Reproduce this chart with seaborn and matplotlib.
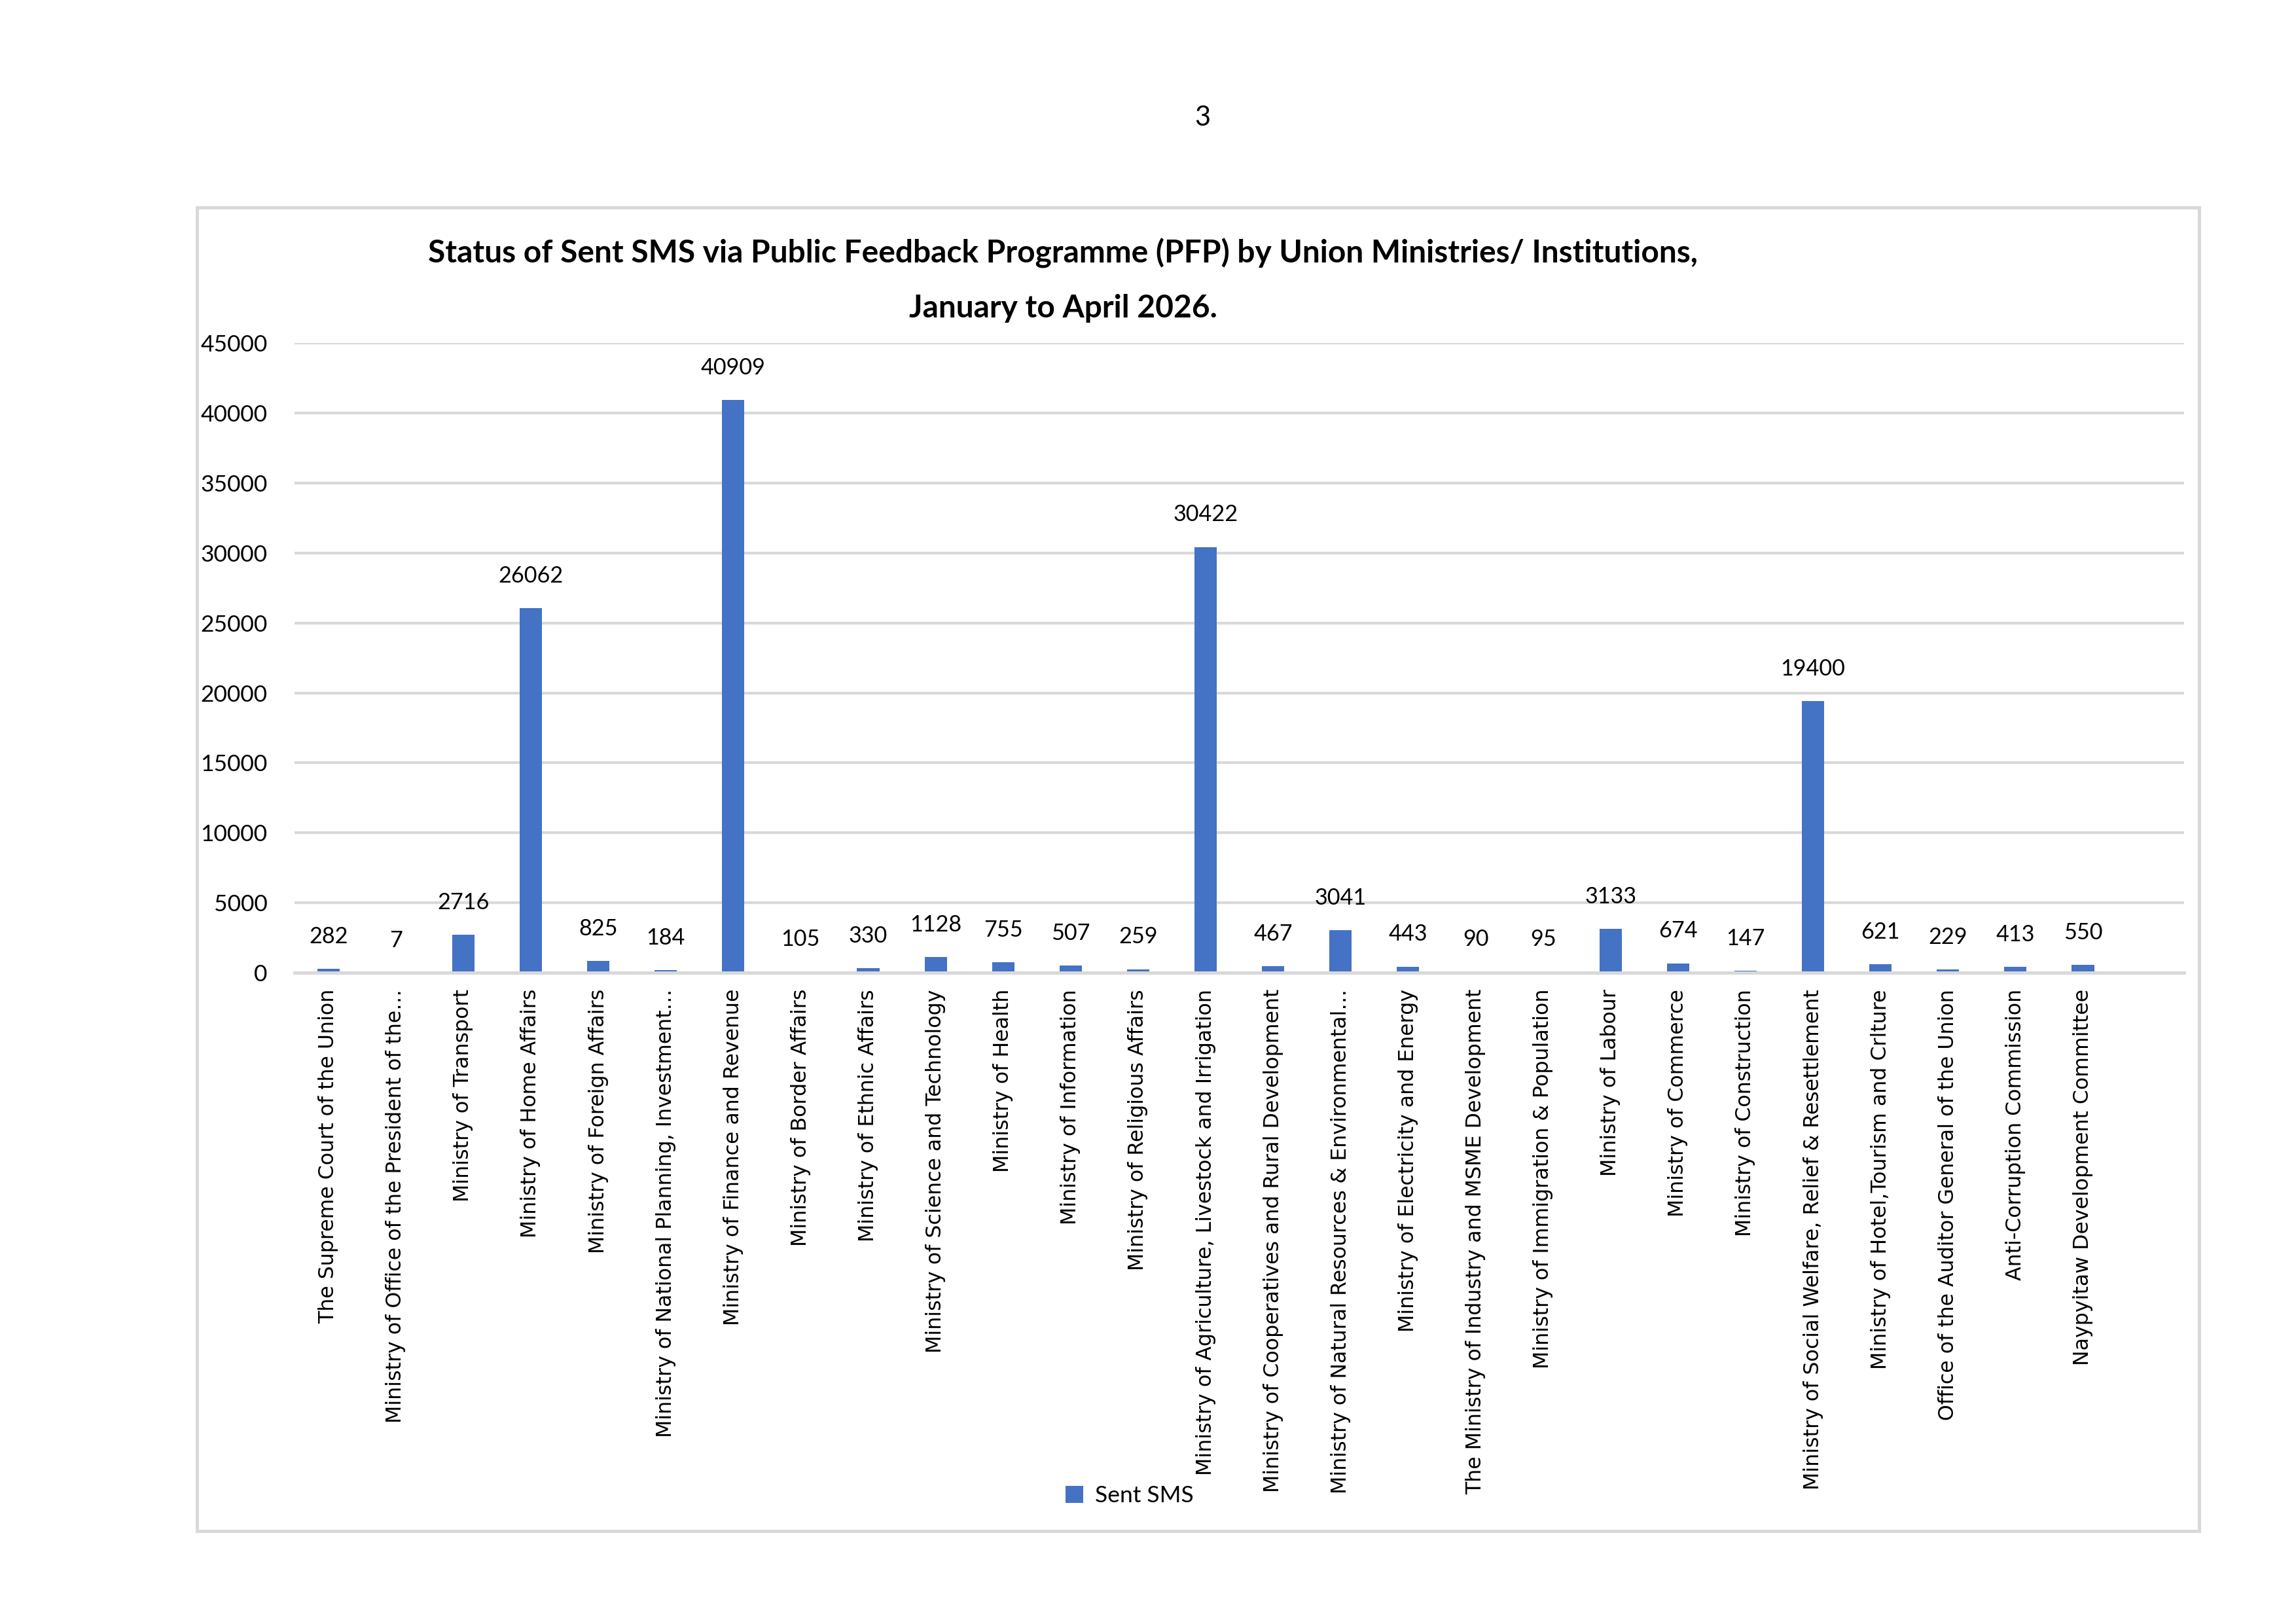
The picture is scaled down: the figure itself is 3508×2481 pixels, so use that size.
import numpy as np
import pandas as pd
import matplotlib
matplotlib.use("Agg")
import matplotlib.pyplot as plt
import seaborn as sns
from matplotlib.patches import Rectangle

# ===============================
# Data
# ===============================

ministries = [
    "The Supreme Court of the Union",
    "Ministry of Office of the President of the\u2026",
    "Ministry of Transport",
    "Ministry of Home Affairs",
    "Ministry of Foreign Affairs",
    "Ministry of National Planning, Investment\u2026",
    "Ministry of Finance and Revenue",
    "Ministry of Border Affairs",
    "Ministry of Ethnic Affairs",
    "Ministry of Science and Technology",
    "Ministry of Health",
    "Ministry of Information",
    "Ministry of Religious Affairs",
    "Ministry of Agriculture, Livestock and Irrigation",
    "Ministry of Cooperatives and Rural Development",
    "Ministry of Natural Resources & Environmental\u2026",
    "Ministry of Electricity and Energy",
    "The Ministry of Industry and MSME Development",
    "Ministry of Immigration & Population",
    "Ministry of Labour",
    "Ministry of Commerce",
    "Ministry of Construction",
    "Ministry of Social Welfare, Relief & Resettlement",
    "Ministry of Hotel,Tourism and Crlture",
    "Office of the Auditor General of the Union",
    "Anti-Corruption Commission",
    "Naypyitaw Development Committee",
]

sent_sms = [282, 7, 2716, 26062, 825, 184, 40909, 105, 330, 1128, 755, 507, 259,
            30422, 467, 3041, 443, 90, 95, 3133, 674, 147, 19400, 621, 229, 413, 550]

y_ticks = [0, 5000, 10000, 15000, 20000, 25000, 30000, 35000, 40000, 45000]

title_line1 = "Status of Sent SMS via Public Feedback Programme (PFP) by Union Ministries/ Institutions,"
title_line2 = "January to April 2026."

df = pd.DataFrame({"Ministry": ministries, "Sent SMS": sent_sms})

# ===============================
# Style
# ===============================

sns.set_style("white")
plt.rcParams["text.color"] = "black"
plt.rcParams["xtick.color"] = "black"
plt.rcParams["ytick.color"] = "black"
num_font = ["Lato", "DejaVu Sans"]
bar_color = "#4472C4"
grid_color = "#D9D9D9"

fig = plt.figure(figsize=(3508 / 300, 2481 / 300), dpi=300)
ax = fig.add_axes([0.1283, 0.401, 0.8230, 0.3878])

sns.barplot(data=df, x="Ministry", y="Sent SMS", color=bar_color,
            width=0.33, saturation=1, label="Sent SMS",
            edgecolor=bar_color, linewidth=0, ax=ax)

ax.set_xlim(-0.5, 27.5)
ax.set_ylim(0, 45000)
ax.set_yticks(y_ticks)
ax.set_yticklabels([str(v) for v in y_ticks], family=num_font, fontsize=8.5)
ax.yaxis.grid(True, color=grid_color, linewidth=1.0)
ax.set_axisbelow(True)
ax.tick_params(axis="both", length=0)
ax.tick_params(axis="y", pad=10)
ax.tick_params(axis="x", pad=6)
ax.set_xticks(range(len(ministries)))
ax.set_xticklabels(ministries, rotation=90, ha="center", va="top",
                   family="DejaVu Sans", fontsize=7.6)
ax.set_xlabel("")
ax.set_ylabel("")
for s in ["top", "right", "left"]:
    ax.spines[s].set_visible(False)
ax.spines["bottom"].set_color(grid_color)
ax.spines["bottom"].set_linewidth(1.2)

for c in ax.containers:
    ax.bar_label(c, labels=[str(v) for v in sent_sms], padding=8,
                 family=num_font, fontsize=8.2)

handles, labels = ax.get_legend_handles_labels()
if ax.get_legend() is not None:
    ax.get_legend().remove()

# ===============================
# Title, page number, border, legend
# ===============================

fig.text(0.463, 0.844, title_line1, ha="center", va="center",
         family=num_font, fontweight="bold", fontsize=11.5)
fig.text(0.463, 0.810, title_line2, ha="center", va="center",
         family=num_font, fontweight="bold", fontsize=11.5)
fig.text(0.5237, 0.9274, "3", ha="center", va="center",
         family=num_font, fontsize=10)

fig.patches.append(Rectangle((0.0858, 0.0572), 0.872, 0.815,
                             transform=fig.transFigure, fill=False,
                             edgecolor=grid_color, linewidth=1.2))

fig.legend(handles, labels, loc="center", bbox_to_anchor=(0.492, 0.079),
           frameon=False, handlelength=0.76, handleheight=0.76,
           handletextpad=0.5, prop={"family": num_font, "size": 8.5})

fig.savefig("out.png", dpi=300)
